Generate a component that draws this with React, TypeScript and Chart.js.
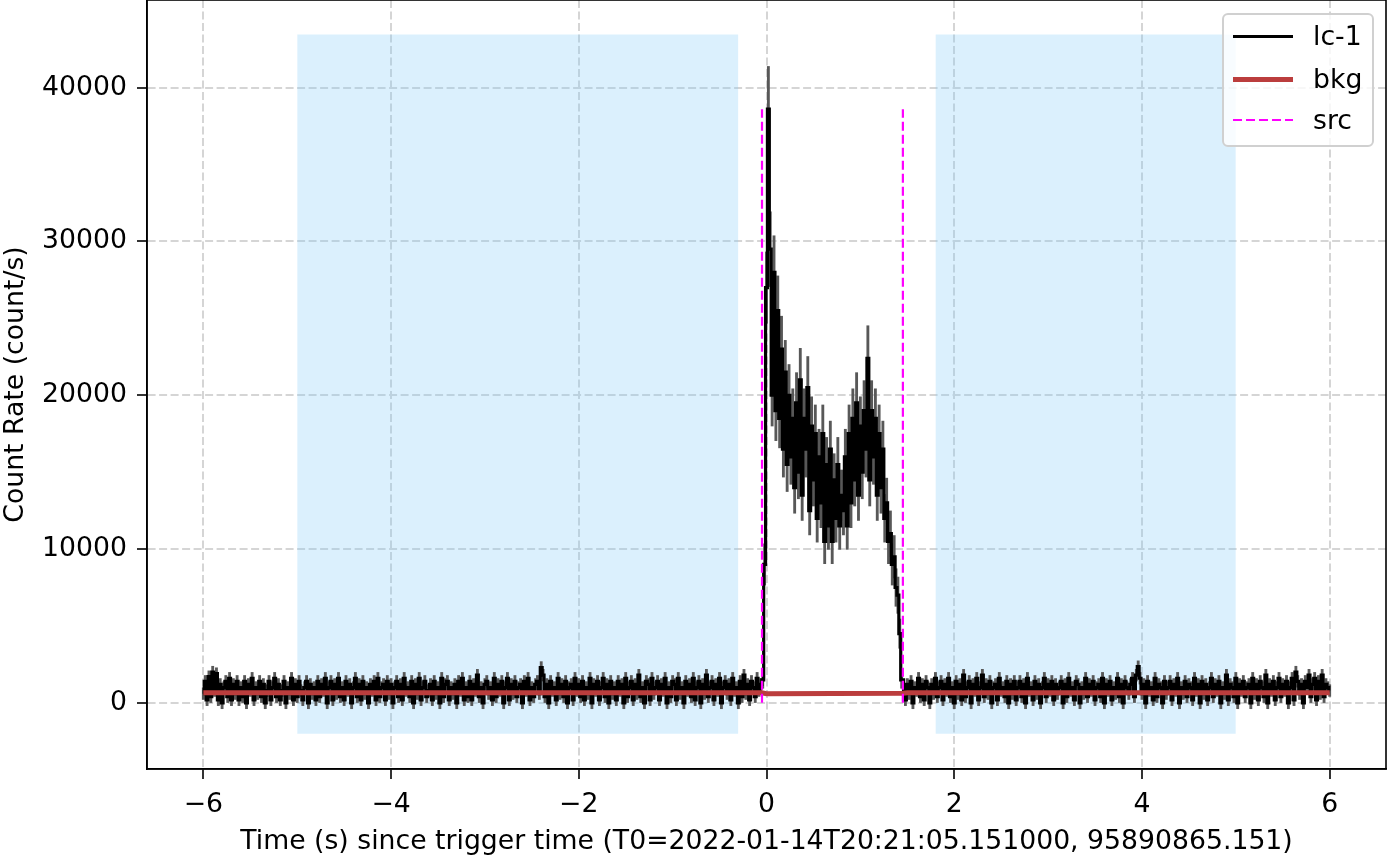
import React, { useEffect, useRef } from 'react';
import { Chart, registerables } from 'chart.js';

Chart.register(...registerables);

const FONT = 'DejaVu Sans';
const FONT_SIZE = 26.7;

const xTicks = [-6, -4, -2, 0, 2, 4, 6];
const yTicks = [0, 10000, 20000, 30000, 40000];

// light curve segments (count/s)
const bgLeftStart = -6.0;
const bgStep = 0.02;
const bgLeftRates = [
  600, 1400, 200, 1700, 400, 2000, 800, 1900, 200, 1200, 0, 1000, 1400, 400, 1600, 200, 1200, 600, 1400, 200,
  1000, 400, 1400, 0, 1200, 800, 1600, 200, 1000, 600, 1400, 400, 1200, 0, 800, 1400, 200, 1000, 1600, 400,
  1200, 200, 800, 1400, 0, 1000, 600, 1600, 200, 1200, 400, 1400, 800, 200, 1000, 1400, 0, 1200, 600, 1000,
  200, 1400, 400, 1200, 800, 1600, 0, 1000, 1400, 200, 1200, 600, 1600, 400, 1000, 200, 1400, 800, 1200, 0,
  1000, 1600, 400, 1200, 200, 1400, 600, 1000, 0, 1200, 800, 1400, 200, 1600, 400, 1000, 1200, 200, 1400, 600,
  1200, 0, 1000, 1400, 400, 1200, 200, 1600, 800, 1000, 400, 1400, 0, 1200, 600, 1600, 200, 1000, 1400, 400,
  800, 1200, 200, 1400, 600, 1000, 0, 1600, 400, 1200, 1400, 200, 1000, 600, 1200, 0, 1400, 800, 1600, 200,
  1000, 400, 1400, 200, 1200, 800, 1800, 400, 1000, 0, 1200, 1400, 600, 1000, 200, 1600, 400, 1200, 800, 1400,
  0, 1000, 1600, 200, 1200, 600, 1400, 400, 1000, 1200, 0, 1400, 800, 1600, 200, 1000, 400, 1200, 1400, 600,
  2300, 1800, 400, 1200, 0, 1400, 800, 1000, 200, 1600, 600, 1200, 400, 1400, 0, 1000, 1200, 200, 1600, 800,
  1200, 400, 1400, 200, 1000, 600, 1600, 0, 1200, 800, 1400, 200, 1000, 1600, 400, 1200, 0, 1400, 600, 1000,
  200, 1400, 800, 1200, 0, 1600, 400, 1000, 1400, 200, 1200, 600, 1800, 400, 1000, 0, 1400, 1200, 200, 1600,
  600, 1000, 1400, 200, 1200, 800, 1600, 0, 1000, 400, 1400, 1200, 200, 1600, 600, 1000, 0, 1400, 800, 1200,
  400, 1600, 200, 1000, 1400, 0, 1200, 600, 1800, 400, 1000, 1400, 200, 1200, 800, 1600, 0, 1000, 1400, 600,
  1200, 200, 1600, 800, 1000, 0, 1400, 400, 1800, 600, 1200, 200, 1400, 1000, 400, 1600, 800, 1200,
];

const burstStart = -0.04;
const burstStep = 0.02;
const burstRates = [
  1500, 9000, 27000, 38600, 29500, 20000, 28000, 19000, 25500, 18500,
  23000, 16500, 21500, 15500, 20000, 16000, 18500, 14000, 19500, 15000,
  21000, 13500, 18500, 16500, 20500, 12500, 18000, 14500, 17500, 12000,
  16000, 13000, 17500, 10500, 15500, 11500, 16500, 10500, 14500, 12000,
  15500, 11500, 13500, 12500, 16000, 11500, 17500, 13000, 18500, 14500,
  19500, 13500, 18000, 15000, 19000, 16500, 22400, 14500, 19000, 16000,
  18500, 13500, 17500, 14000, 16500, 12000, 13000, 10500, 11000, 9000,
  9500, 7500, 7000, 4500, 1500,
];
const burstErrors = [
  550, 1340, 2320, 2780, 2430, 2000, 2370, 1950, 2260, 1920,
  2140, 1820, 2070, 1760, 2000, 1790, 1920, 1670, 1970, 1730,
  2050, 1640, 1920, 1820, 2020, 1580, 1900, 1700, 1870, 1550,
  1790, 1610, 1870, 1450, 1760, 1520, 1820, 1450, 1700, 1550,
  1760, 1520, 1640, 1580, 1790, 1520, 1870, 1610, 1920, 1700,
  1970, 1640, 1900, 1730, 1950, 1820, 2120, 1700, 1950, 1790,
  1920, 1640, 1870, 1670, 1820, 1550, 1610, 1450, 1480, 1340,
  1380, 1220, 1180, 950, 550,
];

const bgRightStart = 1.48;
const bgRightRates = [
  200, 1200, 600, 1400, 0, 1000, 800, 1600, 400, 1200, 200, 1400, 1000, 0, 1200, 600, 1600, 400, 1000, 1400,
  200, 1200, 800, 1600, 400, 1000, 0, 1400, 600, 1200, 200, 1800, 400, 1000, 1400, 0, 1200, 800, 1600, 200,
  1000, 1800, 400, 1200, 600, 1400, 0, 1000, 1200, 200, 1600, 800, 1000, 400, 1400, 0, 1200, 600, 1400, 200,
  1000, 1400, 400, 1200, 0, 1600, 800, 1000, 200, 1400, 600, 1200, 0, 1000, 1600, 400, 1200, 800, 1400, 200,
  1200, 600, 1000, 1400, 0, 1200, 400, 1600, 800, 1000, 200, 1400, 1200, 0, 1000, 600, 1600, 400, 1200, 800,
  1400, 200, 1000, 1200, 400, 1600, 0, 1200, 800, 1400, 200, 1000, 600, 1600, 400, 1200, 0, 1400, 1000, 600,
  1200, 1600, 400, 1800, 2350, 1600, 600, 1200, 0, 1400, 800, 1000, 200, 1600, 400, 1200, 1000, 0, 1400, 600,
  1000, 1400, 200, 1200, 800, 1600, 0, 1000, 600, 1400, 400, 1200, 1000, 200, 1600, 800, 1200, 0, 1400, 600,
  1200, 200, 1000, 1600, 400, 1200, 800, 1400, 0, 1000, 600, 1800, 200, 1200, 1000, 400, 1600, 0, 1200, 800,
  1400, 400, 1000, 1200, 0, 1600, 600, 1200, 200, 1400, 1000, 400, 1800, 0, 1200, 800, 1400, 200, 1000, 1600,
  400, 1200, 800, 1400, 0, 1000, 1600, 200, 2000, 1400, 600, 1200, 0, 1400, 1000, 1800, 400, 1200, 1600, 200,
  1400, 600, 1800, 400, 1200, 1000, 800,
];
const bgError = 380;

// background model
const bkgTimes = [-6, -0.05, 0, 1.45, 1.5, 6];
const bkgRates = [660, 660, 600, 630, 660, 660];

// source interval
const srcTimes = [-0.048, 1.453];
const srcTop = 38600;

// background-fit intervals
const spanStarts = [-5.0, 1.8];
const spanEnds = [-0.3, 5.0];
const spanLow = -2000;
const spanHigh = 43450;

const segment = (start: number, step: number, rates: number[], errs: number[] | number) =>
  rates.map((y, i) => ({
    x: +(start + i * step).toFixed(3),
    y,
    e: Array.isArray(errs) ? errs[i] : errs,
  }));

const lcPoints = [
  ...segment(bgLeftStart, bgStep, bgLeftRates, bgError),
  ...segment(burstStart, burstStep, burstRates, burstErrors),
  ...segment(bgRightStart, bgStep, bgRightRates, bgError),
];

const fmt = (v: number) => (v < 0 ? '\u2212' + Math.abs(v) : String(v));

const framePlugin = {
  id: 'frame',
  afterDraw(chart: any) {
    const { ctx, chartArea: a } = chart;
    ctx.save();
    ctx.strokeStyle = '#000';
    ctx.lineWidth = 1.6;
    ctx.strokeRect(a.left, a.top, a.right - a.left, a.bottom - a.top);
    ctx.restore();
  },
};

export default function App() {
  const ref = useRef<HTMLCanvasElement | null>(null);

  useEffect(() => {
    if (!ref.current) return;
    const spanSets = spanStarts.map((s, i) => ({
      type: 'line' as const,
      data: [
        { x: s, y: spanHigh },
        { x: spanEnds[i], y: spanHigh },
      ],
      borderWidth: 0,
      pointRadius: 0,
      backgroundColor: 'rgba(135,206,250,0.3)',
      fill: { value: spanLow },
      order: 10,
    }));
    const srcSets = srcTimes.map((t) => ({
      type: 'line' as const,
      data: [
        { x: t, y: 0 },
        { x: t, y: srcTop },
      ],
      borderColor: '#ff00ff',
      borderWidth: 2.2,
      borderDash: [9, 4],
      pointRadius: 0,
      fill: false,
      order: 1,
    }));
    const chart = new Chart(ref.current, {
      type: 'line',
      data: {
        datasets: [
          ...spanSets,
          {
            type: 'bar',
            data: lcPoints.map((p) => ({ x: p.x, y: [p.y - p.e, p.y + p.e] })),
            backgroundColor: '#585858',
            borderWidth: 0,
            barThickness: 2.2,
            order: 5,
          } as any,
          {
            type: 'line',
            data: lcPoints.map((p) => ({ x: p.x, y: p.y })),
            borderColor: '#000',
            borderWidth: 3.2,
            stepped: 'middle',
            pointRadius: 0,
            fill: false,
            order: 4,
          },
          {
            type: 'line',
            data: bkgTimes.map((t, i) => ({ x: t, y: bkgRates[i] })),
            borderColor: '#bb3d3d',
            borderWidth: 5,
            pointRadius: 0,
            fill: false,
            order: 3,
          },
          ...srcSets,
        ],
      },
      options: {
        responsive: false,
        animation: false,
        events: [],
        layout: { padding: { top: 0, right: 1, left: 0, bottom: 0 } },
        plugins: { legend: { display: false }, tooltip: { enabled: false } },
        scales: {
          x: {
            type: 'linear',
            min: -6.6,
            max: 6.6,
            offset: false,
            afterBuildTicks: (s: any) => {
              s.ticks = xTicks.map((v) => ({ value: v }));
            },
            afterFit: (s: any) => {
              s.height = 87;
              s.paddingLeft = 0;
              s.paddingRight = 0;
            },
            ticks: {
              callback: (v: any) => fmt(Number(v)),
              font: { family: FONT, size: FONT_SIZE },
              color: '#000',
              padding: 10,
              maxRotation: 0,
              autoSkip: false,
            },
            grid: {
              color: '#d5d5d5',
              lineWidth: 2,
              drawTicks: true,
              tickLength: 10,
              tickColor: '#000',
              tickWidth: 1.6,
              offset: false,
            },
            border: { display: true, color: '#000', width: 1.6, dash: [8, 3.5] },
            title: {
              display: true,
              text: 'Time (s) since trigger time (T0=2022-01-14T20:21:05.151000, 95890865.151)',
              font: { family: FONT, size: FONT_SIZE },
              color: '#000',
              padding: { top: 0, bottom: -2 },
            },
          },
          y: {
            type: 'linear',
            min: -4300,
            max: 45700,
            afterBuildTicks: (s: any) => {
              s.ticks = yTicks.map((v) => ({ value: v }));
            },
            afterFit: (s: any) => {
              s.width = 147;
              s.paddingTop = 0;
              s.paddingBottom = 0;
            },
            ticks: {
              callback: (v: any) => fmt(Number(v)),
              font: { family: FONT, size: FONT_SIZE },
              color: '#000',
              padding: 10,
              autoSkip: false,
            },
            grid: {
              color: '#d5d5d5',
              lineWidth: 2,
              drawTicks: true,
              tickLength: 10,
              tickColor: '#000',
              tickWidth: 1.6,
            },
            border: { display: true, color: '#000', width: 1.6, dash: [8, 3.5] },
            title: {
              display: true,
              text: 'Count Rate (count/s)',
              font: { family: FONT, size: FONT_SIZE },
              color: '#000',
              padding: { top: 0, bottom: 0 },
            },
          },
        },
      },
      plugins: [framePlugin],
    });
    return () => chart.destroy();
  }, []);

  const legendRow = (top: number, label: string, sample: React.CSSProperties) => (
    <div style={{ position: 'absolute', left: 0, top, width: 148, height: 40 }}>
      <div style={{ position: 'absolute', left: 9, top: 20, width: 60, ...sample }} />
      <div
        style={{
          position: 'absolute',
          left: 89,
          top: 0,
          height: 40,
          lineHeight: '40px',
          fontFamily: FONT,
          fontSize: FONT_SIZE,
          color: '#000',
          whiteSpace: 'nowrap',
        }}
      >
        {label}
      </div>
    </div>
  );

  return (
    <div style={{ position: 'absolute', left: 0, top: 0, width: 1387, height: 856, background: '#fff' }}>
      <canvas ref={ref} width={1387} height={856} style={{ position: 'absolute', left: 0, top: 0 }} />
      <div
        style={{
          position: 'absolute',
          left: 1222,
          top: 13,
          width: 148,
          height: 130,
          border: '2px solid #d0d0d0',
          borderRadius: 6,
          background: 'rgba(255,255,255,0.8)',
        }}
      >
        {legendRow(1, 'lc-1', { height: 3, marginTop: -1.5, background: '#000' })}
        {legendRow(44, 'bkg', { height: 5, marginTop: -2.5, background: '#bb3d3d' })}
        {legendRow(85, 'src', {
          height: 2.5,
          marginTop: -1.2,
          background: 'repeating-linear-gradient(to right, #ff00ff 0 9px, transparent 9px 13px)',
        })}
      </div>
    </div>
  );
}
